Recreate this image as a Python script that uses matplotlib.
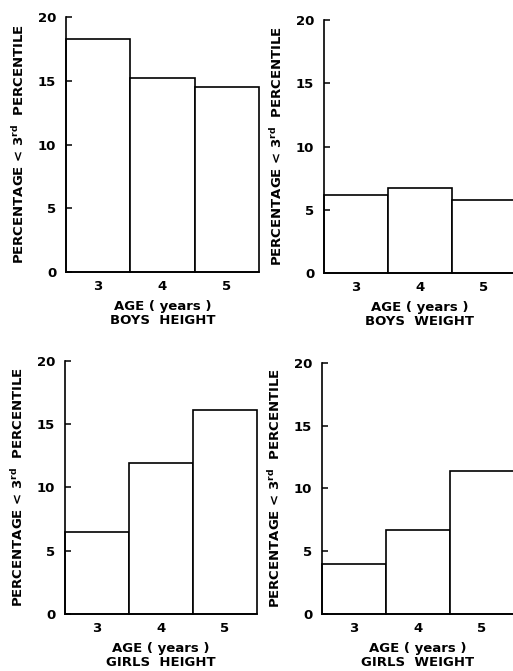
import matplotlib
matplotlib.use("Agg")
import matplotlib.pyplot as plt

# ages on the x axis, percentage below 3rd percentile per panel
ages = [3, 4, 5]
boys_height = [18.3, 15.2, 14.5]
boys_weight = [6.2, 6.7, 5.8]
girls_height = [6.45, 11.95, 16.1]
girls_weight = [4.0, 6.65, 11.4]
yticks = [0, 5, 10, 15, 20]
titles = ["BOYS  HEIGHT", "BOYS  WEIGHT", "GIRLS  HEIGHT", "GIRLS  WEIGHT"]

plt.rcParams['font.family'] = ['DejaVu Sans']
plt.rcParams['font.weight'] = 'bold'
plt.rcParams['axes.labelweight'] = 'bold'
plt.rcParams['mathtext.fontset'] = 'custom'
plt.rcParams['mathtext.rm'] = 'DejaVu Sans:bold'
plt.rcParams['mathtext.default'] = 'rm'

fig = plt.figure(figsize=(5.13, 6.71), dpi=100)

boxes = [
    [0.1287, 0.5946, 0.376, 0.380],
    [0.6316, 0.5931, 0.374, 0.377],
    [0.1267, 0.0849, 0.374, 0.3775],
    [0.6277, 0.0849, 0.374, 0.3745],
]
series = [boys_height, boys_weight, girls_height, girls_weight]

for box, vals, title in zip(boxes, series, titles):
    ax = fig.add_axes(box)
    ax.bar(ages, vals, width=1.0, color='white', edgecolor='black',
           linewidth=1.2, clip_on=False)
    ax.set_xlim(2.5, 5.5)
    ax.set_ylim(0, 20)
    ax.set_yticks(yticks)
    ax.set_xticks(ages)
    ax.spines['top'].set_visible(False)
    ax.spines['right'].set_visible(False)
    ax.spines['left'].set_linewidth(1.2)
    ax.spines['bottom'].set_linewidth(1.2)
    ax.tick_params(axis='y', direction='in', length=4, width=1.1,
                   labelsize=9.5, pad=7)
    ax.tick_params(axis='x', length=0, labelsize=9.5, pad=6)
    ax.set_xlabel("AGE ( years )\n" + title, fontsize=9.5,
                  linespacing=1.1, labelpad=5)
    ax.set_ylabel(r"PERCENTAGE < 3$^{rd}$  PERCENTILE", fontsize=9.5,
                  labelpad=8)

fig.savefig("out.png", dpi=100)
